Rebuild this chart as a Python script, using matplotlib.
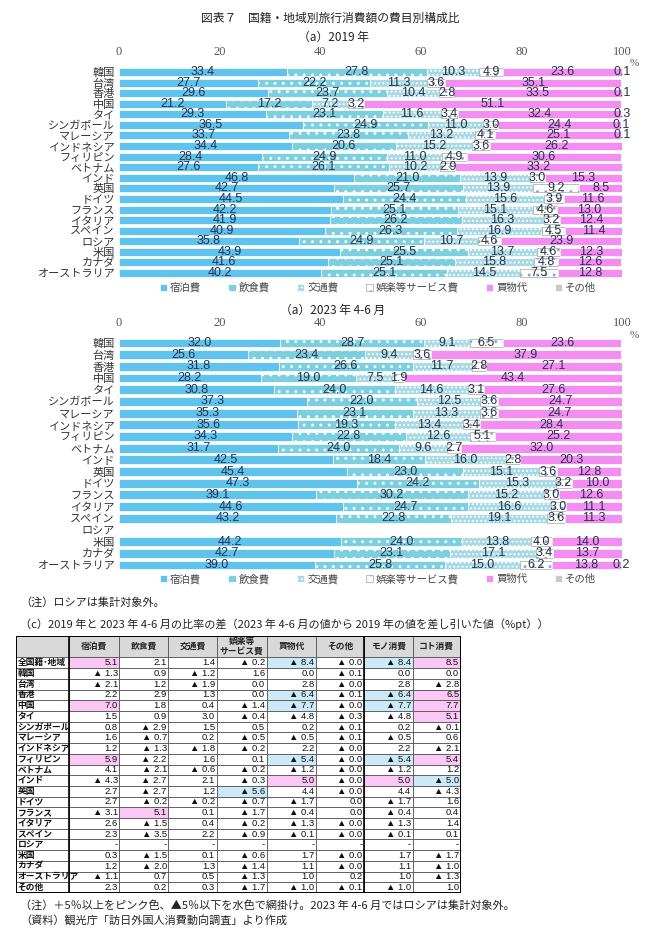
"""国籍・地域別旅行消費額の費目別構成比（2019 / 2023年4-6月）と差分表"""
import numpy as np
import matplotlib
matplotlib.use("Agg")
import matplotlib.pyplot as plt
from matplotlib.patches import Patch, Rectangle

plt.rcParams["font.family"] = ["Noto Sans CJK JP", "DejaVu Sans"]
plt.rcParams["hatch.linewidth"] = 0.9

W, H = 650, 942
NUM_FONT = ["Liberation Sans Narrow", "Liberation Sans", "Noto Sans CJK JP"]
TICK_FONT = ["Liberation Serif", "DejaVu Serif"]

# ============ データ ============
countries = ["韓国", "台湾", "香港", "中国", "タイ", "シンガポール", "マレーシア",
             "インドネシア", "フィリピン", "ベトナム", "インド", "英国", "ドイツ",
             "フランス", "イタリア", "スペイン", "ロシア", "米国", "カナダ", "オーストラリア"]
items = ["宿泊費", "飲食費", "交通費", "娯楽等サービス費", "買物代", "その他"]

lodging_2019 = [33.4, 27.7, 29.6, 21.2, 29.3, 36.5, 33.7, 34.4, 28.4, 27.6,
                46.8, 42.7, 44.5, 42.2, 41.9, 40.9, 35.8, 43.9, 41.6, 40.2]
food_2019 = [27.8, 22.2, 23.7, 17.2, 23.1, 24.9, 23.8, 20.6, 24.9, 26.1,
             21.0, 25.7, 24.4, 25.1, 26.2, 26.3, 24.9, 25.5, 25.1, 25.1]
transport_2019 = [10.3, 11.3, 10.4, 7.2, 11.6, 11.0, 13.2, 15.2, 11.0, 10.2,
                  13.9, 13.9, 15.6, 15.1, 16.3, 16.9, 10.7, 13.7, 15.8, 14.5]
leisure_2019 = [4.9, 3.6, 2.8, 3.2, 3.4, 3.0, 4.1, 3.6, 4.9, 2.9,
                3.0, 9.2, 3.9, 4.6, 3.2, 4.5, 4.6, 4.6, 4.8, 7.5]
shopping_2019 = [23.6, 35.1, 33.5, 51.1, 32.4, 24.4, 25.1, 26.2, 30.6, 33.2,
                 15.3, 8.5, 11.6, 13.0, 12.4, 11.4, 23.9, 12.3, 12.6, 12.8]
other_2019 = [0.1, 0.0, 0.1, 0.0, 0.3, 0.1, 0.1, 0.0, 0.0, 0.0,
              0.0, 0.0, 0.0, 0.0, 0.0, 0.0, 0.0, 0.0, 0.0, 0.0]

nan = float("nan")  # ロシアは2023年集計対象外
lodging_2023 = [32.0, 25.6, 31.8, 28.2, 30.8, 37.3, 35.3, 35.6, 34.3, 31.7,
                42.5, 45.4, 47.3, 39.1, 44.6, 43.2, nan, 44.2, 42.7, 39.0]
food_2023 = [28.7, 23.4, 26.6, 19.0, 24.0, 22.0, 23.1, 19.3, 22.8, 24.0,
             18.4, 23.0, 24.2, 30.2, 24.7, 22.8, nan, 24.0, 23.1, 25.8]
transport_2023 = [9.1, 9.4, 11.7, 7.5, 14.6, 12.5, 13.3, 13.4, 12.6, 9.6,
                  16.0, 15.1, 15.3, 15.2, 16.6, 19.1, nan, 13.8, 17.1, 15.0]
leisure_2023 = [6.5, 3.6, 2.8, 1.9, 3.1, 3.6, 3.6, 3.4, 5.1, 2.7,
                2.8, 3.6, 3.2, 3.0, 3.0, 3.6, nan, 4.0, 3.4, 6.2]
shopping_2023 = [23.6, 37.9, 27.1, 43.4, 27.6, 24.7, 24.7, 28.4, 25.2, 32.0,
                 20.3, 12.8, 10.0, 12.6, 11.1, 11.3, nan, 14.0, 13.7, 13.8]
other_2023 = [0.0, 0.0, 0.0, 0.0, 0.0, 0.0, 0.0, 0.0, 0.0, 0.0,
              0.0, 0.0, 0.0, 0.0, 0.0, 0.0, nan, 0.0, 0.0, 0.2]

# 差分表（▲はマイナス）
table_cols = ["宿泊費", "飲食費", "交通費", "娯楽等\nサービス費", "買物代", "その他", "モノ消費", "コト消費"]
table_rows = ["全国籍･地域"] + countries + ["その他"]
table_vals = [
    ["5.1", "2.1", "1.4", "▲0.2", "▲8.4", "▲0.0", "▲8.4", "8.5"],
    ["▲1.3", "0.9", "▲1.2", "1.6", "0.0", "▲0.1", "0.0", "0.0"],
    ["▲2.1", "1.2", "▲1.9", "0.0", "2.8", "▲0.0", "2.8", "▲2.8"],
    ["2.2", "2.9", "1.3", "0.0", "▲6.4", "▲0.1", "▲6.4", "6.5"],
    ["7.0", "1.8", "0.4", "▲1.4", "▲7.7", "▲0.0", "▲7.7", "7.7"],
    ["1.5", "0.9", "3.0", "▲0.4", "▲4.8", "▲0.3", "▲4.8", "5.1"],
    ["0.8", "▲2.9", "1.5", "0.5", "0.2", "▲0.1", "0.2", "▲0.1"],
    ["1.6", "▲0.7", "0.2", "▲0.5", "▲0.5", "▲0.1", "▲0.5", "0.6"],
    ["1.2", "▲1.3", "▲1.8", "▲0.2", "2.2", "▲0.0", "2.2", "▲2.1"],
    ["5.9", "▲2.2", "1.6", "0.1", "▲5.4", "▲0.0", "▲5.4", "5.4"],
    ["4.1", "▲2.1", "▲0.6", "▲0.2", "▲1.2", "▲0.0", "▲1.2", "1.2"],
    ["▲4.3", "▲2.7", "2.1", "▲0.3", "5.0", "▲0.0", "5.0", "▲5.0"],
    ["2.7", "▲2.7", "1.2", "▲5.6", "4.4", "▲0.0", "4.4", "▲4.3"],
    ["2.7", "▲0.2", "▲0.2", "▲0.7", "▲1.7", "0.0", "▲1.7", "1.6"],
    ["▲3.1", "5.1", "0.1", "▲1.7", "▲0.4", "0.0", "▲0.4", "0.4"],
    ["2.6", "▲1.5", "0.4", "▲0.2", "▲1.3", "▲0.0", "▲1.3", "1.4"],
    ["2.3", "▲3.5", "2.2", "▲0.9", "▲0.1", "▲0.0", "▲0.1", "0.1"],
    ["-", "-", "-", "-", "-", "-", "-", "-"],
    ["0.3", "▲1.5", "0.1", "▲0.6", "1.7", "▲0.0", "1.7", "▲1.7"],
    ["1.2", "▲2.0", "1.3", "▲1.4", "1.1", "▲0.0", "1.1", "▲1.0"],
    ["▲1.1", "0.7", "0.5", "▲1.3", "1.0", "0.2", "1.0", "▲1.3"],
    ["2.3", "0.2", "0.3", "▲1.7", "▲1.0", "▲0.1", "▲1.0", "1.0"],
]

# ============ スタイル ============
styles = [
    dict(fc="#5fc3ee", ec="white", hatch=None),
    dict(fc="#7ccfdf", ec="white", hatch=".."),
    dict(fc="#a6d9e3", ec="white", hatch="...."),
    dict(fc="white", ec="#9aa6aa", hatch=".."),
    dict(fc="#f38df1", ec="white", hatch=None),
    dict(fc="#c8c8c8", ec="white", hatch=None),
]
LABEL_C = "#26324a"


def px_axes(fig, x0, y0, x1, y1):
    return fig.add_axes([x0 / W, 1 - y1 / H, (x1 - x0) / W, (y1 - y0) / H])


def draw_chart(ax, series):
    n = len(countries)
    ypos = np.arange(n)
    left = np.zeros(n)
    for vals, st in zip(series, styles):
        vals = np.array(vals, dtype=float)
        ax.barh(ypos, vals, left=left, height=0.76, color=st["fc"], edgecolor=st["ec"],
                hatch=st["hatch"], linewidth=0.5)
        for i, v in enumerate(vals):
            if np.isfinite(v) and v > 0:
                ax.text(left[i] + v / 2, i, f"{v:.1f}", ha="center", va="center",
                        fontsize=9, color=LABEL_C, family=NUM_FONT)
        left = left + np.nan_to_num(vals)
    ax.set_xlim(0, 100)
    ax.set_ylim(n - 0.5, -0.5)
    ax.set_yticks(ypos)
    ax.set_yticklabels(countries, fontsize=8, color="#333333")
    ax.xaxis.tick_top()
    ax.set_xticks([0, 20, 40, 60, 80, 100])
    for lab in ax.get_xticklabels():
        lab.set_family(TICK_FONT)
        lab.set_fontsize(9)
        lab.set_color("#555555")
    ax.tick_params(axis="both", length=0)
    ax.tick_params(axis="x", pad=6)
    ax.tick_params(axis="y", pad=3)
    for s in ax.spines.values():
        s.set_visible(False)
    ax.patch.set_alpha(0)


def add_legend(fig, y):
    handles = [Patch(facecolor=st["fc"], edgecolor=st["ec"], hatch=st["hatch"], linewidth=0.5)
               for st in styles]
    fig.legend(handles, items, loc="center", bbox_to_anchor=(378 / W, 1 - y / H), ncol=6,
               frameon=False, fontsize=7.5, handlelength=0.7, handleheight=0.7,
               handletextpad=0.3, columnspacing=2.6, labelcolor="#444444")


fig = plt.figure(figsize=(W / 100, H / 100), dpi=100)

fig.text(330 / W, 1 - 18 / H, "図表７　国籍・地域別旅行消費額の費目別構成比",
         ha="center", va="center", fontsize=8.5, color="#222222")

# ============ (a) 2019年 ============
fig.text(333 / W, 1 - 37 / H, "（a）2019 年", ha="center", va="center", fontsize=8.5, color="#222222")
sp1 = (273 - 72) / 19
ax1 = px_axes(fig, 119, 72 - sp1 / 2, 622, 273 + sp1 / 2)
draw_chart(ax1, [lodging_2019, food_2019, transport_2019, leisure_2019, shopping_2019, other_2019])
fig.text(634 / W, 1 - 64 / H, "%", ha="center", va="center", fontsize=8, color="#555555", family=TICK_FONT)
add_legend(fig, 288)

# ============ (a) 2023年4-6月 ============
fig.text(333 / W, 1 - 310 / H, "（a）2023 年 4-6 月", ha="center", va="center", fontsize=8.5, color="#222222")
sp2 = (565 - 343) / 19
ax2 = px_axes(fig, 119, 343 - sp2 / 2, 622, 565 + sp2 / 2)
draw_chart(ax2, [lodging_2023, food_2023, transport_2023, leisure_2023, shopping_2023, other_2023])
fig.text(634 / W, 1 - 335 / H, "%", ha="center", va="center", fontsize=8, color="#555555", family=TICK_FONT)
add_legend(fig, 579)

fig.text(20 / W, 1 - 602 / H, "（注）ロシアは集計対象外。", ha="left", va="center", fontsize=8, color="#222222")
fig.text(20 / W, 1 - 624 / H,
         "（c）2019 年と 2023 年 4-6 月の比率の差（2023 年 4-6 月の値から 2019 年の値を差し引いた値（%pt））",
         ha="left", va="center", fontsize=8, color="#222222")

# ============ (c) 差分表 ============
col_w = [53.3, 50, 49, 48.4, 50, 49.3, 48, 48.7, 48]
edges = np.concatenate([[0], np.cumsum(col_w)])
n_units = 2 + len(table_rows)
axt = px_axes(fig, 16, 636, 16 + edges[-1], 893)
axt.set_xlim(0, edges[-1])
axt.set_ylim(n_units, 0)
axt.axis("off")

# ヘッダ
for j in range(len(col_w)):
    axt.add_patch(Rectangle((edges[j], 0), col_w[j], 2, facecolor="#d9d9d9",
                            edgecolor="#555555", linewidth=0.6))
for j, name in enumerate(table_cols):
    axt.text((edges[j + 1] + edges[j + 2]) / 2, 1, name, ha="center", va="center",
             fontsize=6.3, fontweight="bold", color="#222222", linespacing=1.1)

for r, (rname, vals) in enumerate(zip(table_rows, table_vals)):
    y0 = 2 + r
    axt.add_patch(Rectangle((edges[0], y0), col_w[0], 1, facecolor="white",
                            edgecolor="#555555", linewidth=0.6))
    axt.text(edges[0] + 1.5, y0 + 0.5, rname, ha="left", va="center", fontsize=6.3,
             fontweight="bold", color="#111111")
    for j, s in enumerate(vals):
        fc = "white"
        if s != "-":
            v = -float(s[1:]) if s.startswith("▲") else float(s)
            if v >= 5:
                fc = "#fbc8f6"
            elif v <= -5 and s.startswith("▲"):
                fc = "#cbe9f7"
        axt.add_patch(Rectangle((edges[j + 1], y0), col_w[j + 1], 1, facecolor=fc,
                                edgecolor="#555555", linewidth=0.6))
        axt.text(edges[j + 2] - 1.5, y0 + 0.5, s.replace("▲", "▲ "), ha="right", va="center",
                 fontsize=6.8, color="#111111", family=NUM_FONT)

# 太線（外枠・区切り）
axt.add_patch(Rectangle((0, 0), edges[-1], n_units, fill=False, edgecolor="black", linewidth=1.4))
for xb in (edges[1], edges[7]):
    axt.plot([xb, xb], [0, n_units], color="black", linewidth=1.2)

fig.text(20 / W, 1 - 905 / H,
         "（注）＋5％以上をピンク色、▲5％以下を水色で網掛け。2023 年 4-6 月ではロシアは集計対象外。",
         ha="left", va="center", fontsize=8, color="#222222")
fig.text(20 / W, 1 - 921 / H, "（資料）観光庁「訪日外国人消費動向調査」より作成",
         ha="left", va="center", fontsize=8, color="#222222")

fig.savefig("out.png", dpi=100)
